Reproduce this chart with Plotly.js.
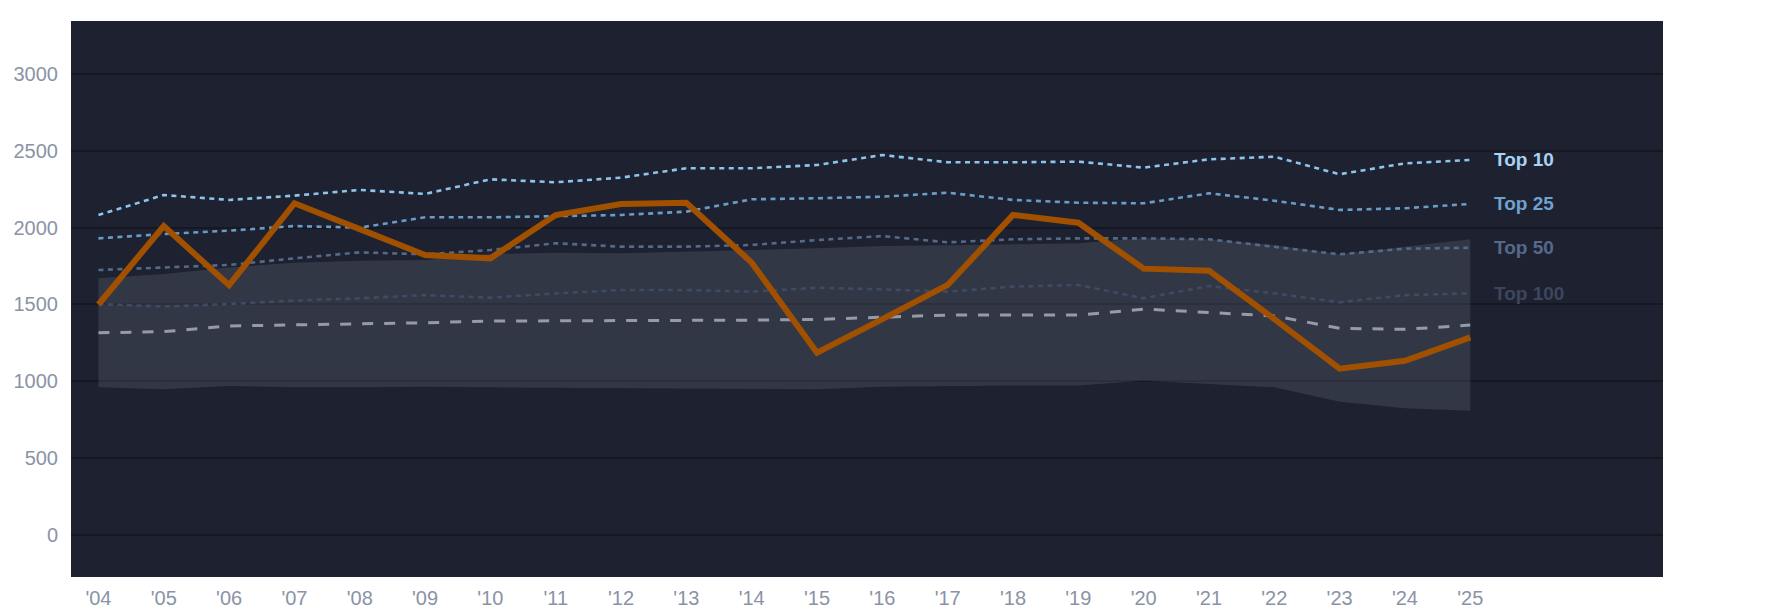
<!DOCTYPE html>
<html>
<head>
<meta charset="utf-8">
<script src="https://cdn.plot.ly/plotly-3.0.1.min.js"></script>
<style>
  html, body { margin: 0; padding: 0; background: #ffffff; }
  #chart { width: 1785px; height: 614px; }
</style>
</head>
<body>
<div id="chart"></div>
<script>
const years = [2004, 2005, 2006, 2007, 2008, 2009, 2010, 2011, 2012, 2013, 2014,
               2015, 2016, 2017, 2018, 2019, 2020, 2021, 2022, 2023, 2024, 2025];
const yearLabels = ["'04", "'05", "'06", "'07", "'08", "'09", "'10", "'11", "'12", "'13", "'14",
                    "'15", "'16", "'17", "'18", "'19", "'20", "'21", "'22", "'23", "'24", "'25"];

const player = [1500, 2010, 1625, 2158, 1990, 1822, 1800, 2082, 2154, 2162, 1772,
                1186, 1405, 1627, 2082, 2032, 1733, 1720, 1405, 1082, 1134, 1286];
const top10 = [2082, 2212, 2180, 2208, 2245, 2219, 2314, 2295, 2325, 2386, 2386,
               2407, 2472, 2425, 2425, 2429, 2390, 2444, 2461, 2347, 2418, 2440];
const top25 = [1930, 1958, 1980, 2010, 2000, 2067, 2067, 2075, 2082, 2104, 2184,
               2191, 2201, 2227, 2180, 2162, 2158, 2223, 2175, 2115, 2126, 2154];
const top50 = [1724, 1741, 1757, 1800, 1839, 1826, 1854, 1898, 1876, 1876, 1887,
               1919, 1945, 1904, 1924, 1930, 1930, 1924, 1876, 1826, 1863, 1869];
const top100 = [1503, 1486, 1503, 1525, 1540, 1561, 1544, 1572, 1594, 1594, 1583,
                1609, 1598, 1583, 1616, 1627, 1540, 1620, 1572, 1514, 1561, 1572];
const median = [1316, 1323, 1360, 1366, 1373, 1381, 1392, 1394, 1392, 1398, 1398,
                1403, 1416, 1431, 1431, 1431, 1470, 1449, 1425, 1345, 1338, 1366];
const bandHigh = [1670, 1698, 1741, 1772, 1785, 1789, 1828, 1837, 1833, 1843, 1854,
                  1865, 1880, 1887, 1891, 1898, 1930, 1924, 1887, 1826, 1876, 1924];
const bandLow = [961, 948, 969, 961, 961, 965, 961, 959, 954, 952, 950,
                 948, 965, 969, 972, 972, 1004, 982, 961, 867, 824, 809];

const tiers = [
  { name: 'Top 10', values: top10, line: '#8ec4ec', label: '#a9d3f4' },
  { name: 'Top 25', values: top25, line: '#6a9cc8', label: '#6fa2cf' },
  { name: 'Top 50', values: top50, line: '#546a87', label: '#56698a' },
  { name: 'Top 100', values: top100, line: '#3e4b62', label: '#3c475d' }
];

const data = [
  {
    x: years, y: bandLow, type: 'scatter', mode: 'lines',
    line: { width: 0 }, hoverinfo: 'skip'
  },
  {
    x: years, y: bandHigh, type: 'scatter', mode: 'lines',
    fill: 'tonexty', fillcolor: 'rgba(150,154,170,0.18)',
    line: { width: 0 }, hoverinfo: 'skip'
  },
  {
    x: years, y: median, type: 'scatter', mode: 'lines', name: 'Median',
    line: { color: '#979ba6', width: 3, dash: '11px,11px' }
  }
];

tiers.slice().reverse().forEach(t => {
  data.push({
    x: years, y: t.values, type: 'scatter', mode: 'lines', name: t.name,
    line: { color: t.line, width: 2.6, dash: '5px,4.5px' }
  });
});

data.push({
  x: years, y: player, type: 'scatter', mode: 'lines', name: 'Player',
  line: { color: '#a15000', width: 6 }
});

const last = years.length - 1;
const annotations = tiers.map(t => ({
  x: years[last], y: t.values[last], xref: 'x', yref: 'y',
  text: '<b>' + t.name + '</b>', showarrow: false,
  xanchor: 'left', yanchor: 'middle', xshift: 22,
  font: { family: 'Liberation Sans, Arial, sans-serif', size: 19, color: t.label }
}));

const layout = {
  width: 1785,
  height: 614,
  margin: { l: 71, r: 122, t: 21, b: 37 },
  paper_bgcolor: '#ffffff',
  plot_bgcolor: '#1d2130',
  showlegend: false,
  font: { family: 'Liberation Sans, Arial, sans-serif', size: 20, color: '#8a93a6' },
  xaxis: {
    range: [2003.58, 2027.95],
    tickvals: years,
    ticktext: yearLabels,
    showgrid: false,
    zeroline: false,
    ticks: 'outside', ticklen: 3, tickcolor: 'rgba(0,0,0,0)',
    tickfont: { size: 20, color: '#8a93a6' }
  },
  yaxis: {
    range: [-273, 3344],
    tickvals: [0, 500, 1000, 1500, 2000, 2500, 3000],
    gridcolor: '#151823',
    gridwidth: 2,
    zeroline: false,
    ticks: 'outside', ticklen: 8, tickcolor: 'rgba(0,0,0,0)',
    tickfont: { size: 20, color: '#8a93a6' }
  },
  annotations: annotations
};

Plotly.newPlot('chart', data, layout, { staticPlot: true });
</script>
</body>
</html>
